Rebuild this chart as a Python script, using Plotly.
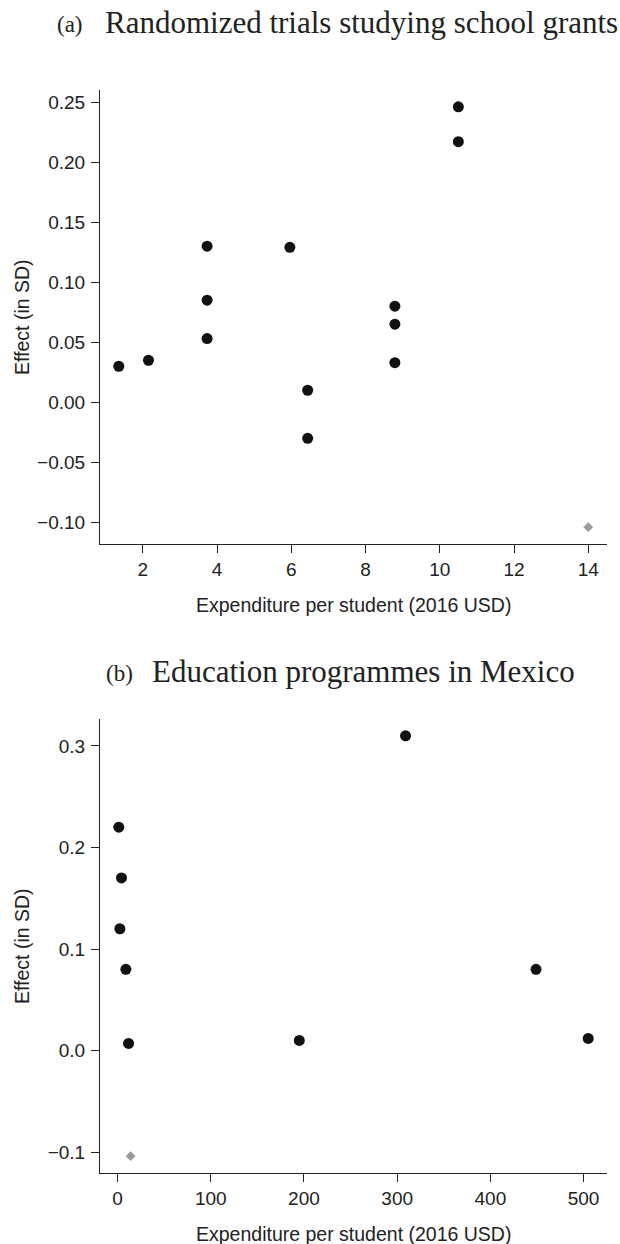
import plotly.graph_objects as go

# ---------------- data ----------------
# Panel (a): Randomized trials studying school grants
a_x = [1.35, 2.15, 3.73, 3.73, 3.73, 5.96, 6.44, 6.44, 8.79, 8.79, 8.79, 10.50, 10.50]
a_y = [0.030, 0.035, 0.130, 0.085, 0.053, 0.129, 0.010, -0.030, 0.080, 0.065, 0.033, 0.246, 0.217]
a_ref_x = [14.0]
a_ref_y = [-0.104]
a_xticks = [2, 4, 6, 8, 10, 12, 14]
a_yticks = [0.25, 0.20, 0.15, 0.10, 0.05, 0.00, -0.05, -0.10]
a_yticktext = ["0.25", "0.20", "0.15", "0.10", "0.05", "0.00", "\u22120.05", "\u22120.10"]

# Panel (b): Education programmes in Mexico
b_x = [1.3, 4.2, 2.5, 8.9, 11.8, 195, 309, 449, 505]
b_y = [0.220, 0.170, 0.120, 0.080, 0.007, 0.010, 0.310, 0.080, 0.012]
b_ref_x = [14.0]
b_ref_y = [-0.104]
b_xticks = [0, 100, 200, 300, 400, 500]
b_yticks = [0.3, 0.2, 0.1, 0.0, -0.1]
b_yticktext = ["0.3", "0.2", "0.1", "0.0", "\u22120.1"]

title_a_tag, title_a = "(a)", "Randomized trials studying school grants"
title_b_tag, title_b = "(b)", "Education programmes in Mexico"
xlab = "Expenditure per student (2016 USD)"
ylab = "Effect (in SD)"


def rrange(vals, pad=0.04):
    lo, hi = min(vals), max(vals)
    d = (hi - lo) * pad
    return [lo - d, hi + d]


W, H = 620, 1244
ML, MR, MT, MB = 100, 13, 90, 71
PW, PH = W - ML - MR, H - MT - MB


def px_x(p):
    return (p - ML) / PW


def px_y(p):
    return (H - MB - p) / PH


DOT = "#111111"
GREY = "#9a9a9a"
INK = "#222222"
SANS = "Liberation Sans, Arial, sans-serif"
SERIF = "Liberation Serif, Times New Roman, serif"

fig = go.Figure()
fig.add_trace(go.Scatter(x=a_x, y=a_y, mode="markers", xaxis="x", yaxis="y",
                         marker=dict(color=DOT, size=11, line=dict(width=0)), showlegend=False))
fig.add_trace(go.Scatter(x=a_ref_x, y=a_ref_y, mode="markers", xaxis="x", yaxis="y",
                         marker=dict(color=GREY, size=7.5, symbol="diamond", line=dict(width=0)),
                         showlegend=False))
fig.add_trace(go.Scatter(x=b_x, y=b_y, mode="markers", xaxis="x2", yaxis="y2",
                         marker=dict(color=DOT, size=11, line=dict(width=0)), showlegend=False))
fig.add_trace(go.Scatter(x=b_ref_x, y=b_ref_y, mode="markers", xaxis="x2", yaxis="y2",
                         marker=dict(color=GREY, size=7.5, symbol="diamond", line=dict(width=0)),
                         showlegend=False))

axis_common = dict(showline=True, linecolor=INK, linewidth=1, mirror=False,
                   ticks="outside", ticklen=8, tickwidth=1, tickcolor=INK,
                   showgrid=False, zeroline=False,
                   tickfont=dict(family=SANS, size=19, color=INK))

a_bot = px_y(544)
b_top = px_y(719)

fig.update_layout(
    width=W, height=H,
    margin=dict(l=ML, r=MR, t=MT, b=MB),
    paper_bgcolor="white", plot_bgcolor="white",
    xaxis=dict(domain=[0, 1], anchor="y", range=rrange(a_x + a_ref_x),
               tickvals=a_xticks, ticktext=[str(v) for v in a_xticks], **axis_common),
    yaxis=dict(domain=[a_bot, 1], anchor="x", range=rrange(a_y + a_ref_y),
               tickvals=a_yticks, ticktext=a_yticktext, ticklabelstandoff=2, **axis_common),
    xaxis2=dict(domain=[0, 1], anchor="y2", range=rrange(b_x + b_ref_x),
                tickvals=b_xticks, ticktext=[str(v) for v in b_xticks], **axis_common),
    yaxis2=dict(domain=[0, b_top], anchor="x2", range=rrange(b_y + b_ref_y),
                tickvals=b_yticks, ticktext=b_yticktext, ticklabelstandoff=2, **axis_common),
)

ann = []
# panel titles
ann.append(dict(text=title_a_tag, x=px_x(85), y=px_y(25), xanchor="right", yanchor="middle",
                font=dict(family=SERIF, size=23, color=INK)))
ann.append(dict(text=title_a, x=px_x(103), y=px_y(23), xanchor="left", yanchor="middle",
                font=dict(family=SERIF, size=31, color=INK)))
ann.append(dict(text=title_b_tag, x=px_x(135), y=px_y(673), xanchor="right", yanchor="middle",
                font=dict(family=SERIF, size=23, color=INK)))
ann.append(dict(text=title_b, x=px_x(150), y=px_y(671), xanchor="left", yanchor="middle",
                font=dict(family=SERIF, size=31, color=INK)))
# axis titles
for yc_px, xl_px in [((MT + 544) / 2, 605), ((719 + 1173) / 2, 1234)]:
    ann.append(dict(text=ylab, x=px_x(22), y=px_y(yc_px), xanchor="center", yanchor="middle",
                    textangle=-90, font=dict(family=SANS, size=19.5, color=INK)))
    ann.append(dict(text=xlab, x=0.5, y=px_y(xl_px), xanchor="center", yanchor="middle",
                    font=dict(family=SANS, size=19.5, color=INK)))
for a in ann:
    a.update(xref="paper", yref="paper", showarrow=False)
fig.update_layout(annotations=ann)

fig.write_html("out.html", config={"displayModeBar": False},
               post_script="document.body.style.margin='0';document.body.style.overflow='hidden';")
